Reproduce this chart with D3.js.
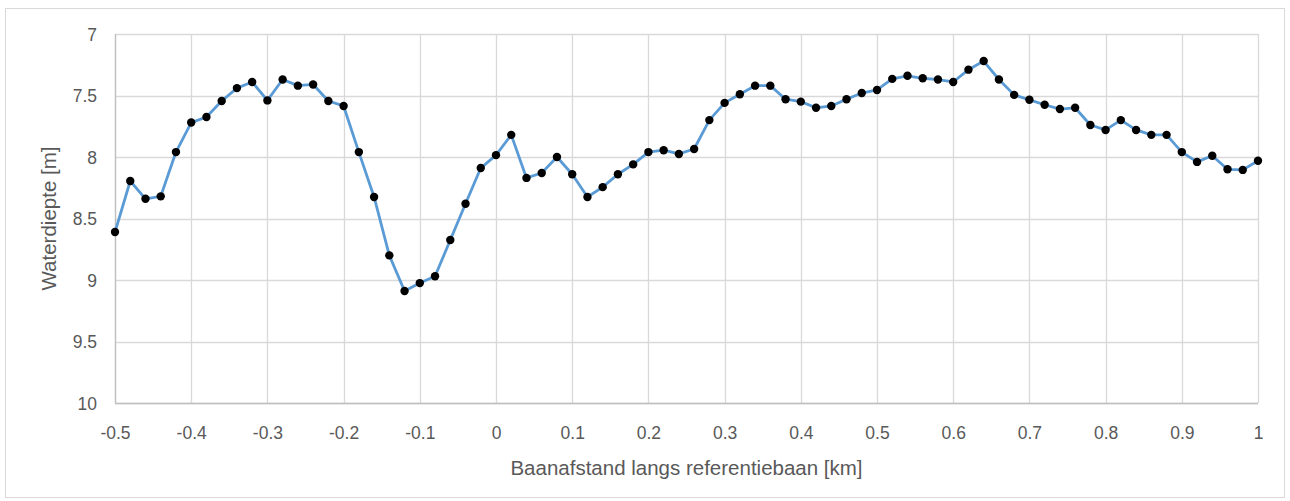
<!DOCTYPE html>
<html>
<head>
<meta charset="utf-8">
<script src="https://cdn.jsdelivr.net/npm/d3@7"></script>
<style>
  body { margin: 0; background: #fff; }
  text { font-family: "Liberation Sans", Arial, sans-serif; fill: #595959; }
</style>
</head>
<body>
<div id="chart"></div>
<script>
// Waterdiepte langs referentiebaan

const width = 1290,
    height = 501,
    margin = ({ top: 34, right: 32, bottom: 98, left: 115 });

// data
const afstand = d3.range(76).map(i => +(-0.5 + i * 0.02).toFixed(2)); // -0.5 .. 1 in steps of 0.02
const diepte = [
  8.61, 8.195, 8.34, 8.32, 7.96, 7.72, 7.675, 7.545, 7.44, 7.39,
  7.54, 7.37, 7.42, 7.41, 7.545, 7.585, 7.96, 8.325, 8.80, 9.09,
  9.025, 8.97, 8.675, 8.38, 8.09, 7.985, 7.82, 8.17, 8.13, 8.0,
  8.14, 8.325, 8.245, 8.14, 8.06, 7.96, 7.945, 7.975, 7.935, 7.70,
  7.56, 7.49, 7.42, 7.42, 7.53, 7.55, 7.60, 7.585, 7.53, 7.48,
  7.455, 7.365, 7.34, 7.36, 7.37, 7.39, 7.29, 7.22, 7.37, 7.495,
  7.535, 7.575, 7.61, 7.60, 7.74, 7.78, 7.70, 7.78, 7.82, 7.82,
  7.96, 8.04, 7.99, 8.10, 8.105, 8.03
];
const xTicks = [-0.5, -0.4, -0.3, -0.2, -0.1, 0, 0.1, 0.2, 0.3, 0.4, 0.5, 0.6, 0.7, 0.8, 0.9, 1];
const yTicks = [7, 7.5, 8, 8.5, 9, 9.5, 10];

const data = afstand.map((d, i) => ({ x: d, y: diepte[i] }));

const svg = d3.select("#chart")
  .append("svg")
  .attr("width", width)
  .attr("height", height);

// outer frame
svg.append("rect")
  .attr("x", 5.5).attr("y", 8.5)
  .attr("width", 1279).attr("height", 489)
  .attr("fill", "#fff")
  .attr("stroke", "#d9d9d9");

const x = d3.scaleLinear()
  .domain([-0.5, 1])
  .range([margin.left, width - margin.right]);

const y = d3.scaleLinear()
  .domain([7, 10]) // reversed: 7 at top
  .range([margin.top, height - margin.bottom]);

// grid
svg.append("g")
  .selectAll("line")
  .data(yTicks)
  .join("line")
  .attr("x1", x(-0.5)).attr("x2", x(1))
  .attr("y1", d => Math.round(y(d)) + 0.5)
  .attr("y2", d => Math.round(y(d)) + 0.5)
  .attr("stroke", "#d9d9d9")
  .attr("stroke-width", 1.3);

svg.append("g")
  .selectAll("line")
  .data(xTicks)
  .join("line")
  .attr("y1", y(7)).attr("y2", y(10))
  .attr("x1", d => Math.round(x(d)) + 0.5)
  .attr("x2", d => Math.round(x(d)) + 0.5)
  .attr("stroke", "#d9d9d9")
  .attr("stroke-width", 1.3);

// axis lines (left and bottom) slightly darker
svg.append("line")
  .attr("x1", Math.round(x(-0.5)) + 0.5).attr("x2", Math.round(x(-0.5)) + 0.5)
  .attr("y1", y(7)).attr("y2", y(10))
  .attr("stroke", "#bfbfbf").attr("stroke-width", 1.3);
svg.append("line")
  .attr("x1", x(-0.5)).attr("x2", x(1))
  .attr("y1", Math.round(y(10)) + 0.5).attr("y2", Math.round(y(10)) + 0.5)
  .attr("stroke", "#bfbfbf").attr("stroke-width", 1.3);

// tick labels via axes (plain hyphen minus, like the original)
const yAxis = svg.append("g")
  .attr("transform", `translate(${margin.left - 15},0)`)
  .call(d3.axisLeft(y).tickValues(yTicks).tickSize(0).tickFormat(d => String(d)));
yAxis.select(".domain").remove();
yAxis.selectAll("text").attr("font-size", 17.5).attr("fill", "#595959").attr("dy", "0.35em");

const xAxis = svg.append("g")
  .attr("transform", `translate(0,${height - margin.bottom + 22})`)
  .call(d3.axisBottom(x).tickValues(xTicks).tickSize(0).tickFormat(d => String(d)));
xAxis.select(".domain").remove();
xAxis.selectAll("text").attr("font-size", 17.5).attr("fill", "#595959").attr("dy", "0.6em");

// axis titles
svg.append("text")
  .attr("x", (x(-0.5) + x(1)) / 2)
  .attr("y", 475)
  .attr("text-anchor", "middle")
  .attr("font-size", 20.5)
  .text("Baanafstand langs referentiebaan [km]");

svg.append("text")
  .attr("transform", `translate(56,${(y(7) + y(10)) / 2}) rotate(-90)`)
  .attr("text-anchor", "middle")
  .attr("font-size", 20.5)
  .text("Waterdiepte [m]");

// line
const line = d3.line()
  .x(d => x(d.x))
  .y(d => y(d.y));

svg.append("path")
  .datum(data)
  .attr("d", line)
  .attr("fill", "none")
  .attr("stroke", "#5b9bd5")
  .attr("stroke-width", 2.8)
  .attr("stroke-linejoin", "round");

// markers
svg.append("g")
  .selectAll("circle")
  .data(data)
  .join("circle")
  .attr("cx", d => x(d.x))
  .attr("cy", d => y(d.y))
  .attr("r", 4.2)
  .attr("fill", "#000");
</script>
</body>
</html>
